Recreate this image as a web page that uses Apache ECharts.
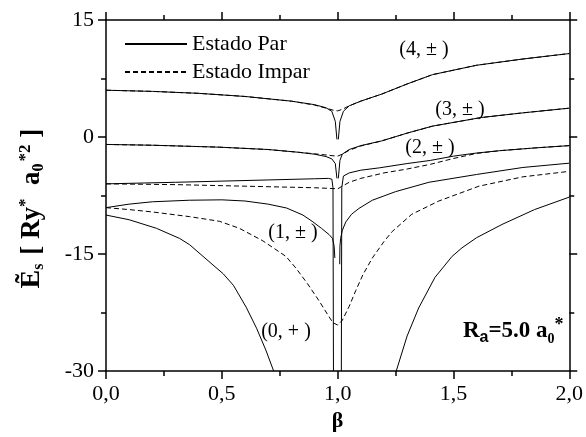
<!DOCTYPE html>
<html><head><meta charset="utf-8">
<script src="https://cdn.jsdelivr.net/npm/echarts@6/dist/echarts.min.js"></script>
<style>html,body{margin:0;padding:0;background:#fff}#c{width:586px;height:437px}</style>
</head><body><div id="c"></div>
<script>
// ---- tick values ----
const xTickValues = [0, 0.5, 1.0, 1.5, 2.0];
const yTickValues = [-30, -15, 0, 15];
const seriesNames = ['Estado Par', 'Estado Impar'];

// ---- level 4 ----
const par4_b = [0, 0.2, 0.4, 0.6, 0.8, 0.9, 0.95, 0.975, 0.99, 0.997, 1.0, 1.003, 1.01, 1.025, 1.05, 1.1, 1.19, 1.3, 1.41, 1.6, 1.8, 2.0];
const par4_e = [6.0, 5.85, 5.6, 5.2, 4.6, 4.15, 3.75, 3.3, 2.0, -0.3, null, -0.3, 2.0, 3.3, 4.0, 4.6, 5.5, 6.8, 8.0, 9.2, 10.0, 10.7];
const imp4_b = [0, 0.2, 0.4, 0.6, 0.8, 0.9, 0.95, 0.98, 1.0, 1.02, 1.05, 1.1, 1.19, 1.3, 1.41, 1.6, 1.8, 2.0];
const imp4_e = [6.0, 5.85, 5.6, 5.2, 4.6, 4.1, 3.7, 3.45, 3.35, 3.55, 4.0, 4.6, 5.5, 6.8, 8.0, 9.2, 10.0, 10.7];

// ---- level 3 ----
const par3_b = [0, 0.2, 0.49, 0.7, 0.83, 0.9, 0.95, 0.975, 0.99, 0.997, 1.0, 1.003, 1.01, 1.02, 1.05, 1.1, 1.19, 1.3, 1.41, 1.62, 1.8, 2.0];
const par3_e = [-0.95, -1.05, -1.3, -1.6, -1.95, -2.2, -2.5, -2.8, -3.4, -5.3, null, -5.3, -3.0, -2.2, -1.6, -1.1, -0.5, 0.5, 1.4, 2.5, 3.1, 3.7];
const imp3_b = [0, 0.2, 0.49, 0.7, 0.83, 0.9, 0.95, 0.98, 1.0, 1.02, 1.05, 1.1, 1.19, 1.3, 1.41, 1.62, 1.8, 2.0];
const imp3_e = [-0.95, -1.05, -1.3, -1.6, -1.95, -2.15, -2.3, -2.4, -2.45, -2.2, -1.7, -1.15, -0.5, 0.5, 1.4, 2.5, 3.1, 3.7];

// ---- level 2 ----
const par2_b = [0, 0.3, 0.5, 0.7, 0.9, 0.96, 0.975, 0.98, 0.982, 1.0, 1.016, 1.018, 1.025, 1.05, 1.1, 1.18, 1.3, 1.4, 1.5, 1.6, 1.7, 1.85, 2.0];
const par2_e = [-6.0, -5.8, -5.65, -5.5, -5.35, -5.3, -5.4, -6.5, -30, null, -30, -6.5, -5.0, -4.6, -4.25, -3.95, -3.4, -3.0, -2.45, -2.05, -1.75, -1.4, -1.1];
const imp2_b = [0, 0.3, 0.6, 0.9, 0.98, 1.0, 1.02, 1.05, 1.1, 1.2, 1.3, 1.4, 1.5, 1.6, 1.7, 1.85, 2.0];
const imp2_e = [-6.0, -6.1, -6.3, -6.5, -6.6, -6.65, -6.3, -5.8, -5.3, -4.6, -4.1, -3.5, -2.75, -2.1, -1.75, -1.4, -1.1];

// ---- level 1 ----
const par1_b = [0, 0.1, 0.2, 0.36, 0.5, 0.6, 0.7, 0.78, 0.85, 0.89, 0.93, 0.963, 0.978, 0.985, 0.988, 1.0, 1.009, 1.01, 1.013, 1.02, 1.035, 1.06, 1.092, 1.15, 1.25, 1.394, 1.6, 1.8, 2.0];
const par1_e = [-9.05, -8.6, -8.3, -8.1, -8.05, -8.2, -8.6, -9.1, -10.0, -10.8, -11.7, -12.5, -13.0, -14.0, -15.5, null, -16.3, -14.0, -13.0, -12.0, -10.9, -9.9, -9.15, -8.1, -7.0, -5.8, -4.8, -3.9, -3.35];
const imp1_b = [0, 0.1, 0.2, 0.36, 0.49, 0.576, 0.677, 0.777, 0.82, 0.87, 0.92, 0.96, 0.98, 1.0, 1.02, 1.05, 1.078, 1.11, 1.15, 1.2, 1.236, 1.32, 1.437, 1.61, 1.8, 2.0];
const imp1_e = [-9.05, -9.3, -9.6, -10.2, -10.8, -11.7, -13.3, -15.3, -16.8, -18.8, -21.0, -22.9, -23.8, -24.1, -23.5, -21.7, -19.7, -17.6, -15.5, -13.4, -12.1, -9.9, -8.2, -6.3, -5.1, -4.4];

// ---- level 0 (only even state) ----
const par0_b = [0, 0.1, 0.218, 0.318, 0.361, 0.462, 0.505, 0.55, 0.605, 0.65, 0.69, 0.724, 1.0, 1.253, 1.3, 1.35, 1.42, 1.494, 1.537, 1.6, 1.71, 1.85, 2.0];
const par0_e = [-10.0, -10.6, -11.7, -13.0, -13.8, -16.4, -17.5, -19.0, -21.8, -24.5, -27.3, -30, null, -30, -25.5, -21.9, -18.0, -15.3, -14.2, -12.9, -11.2, -9.3, -7.7];

const FONT = '"Liberation Serif", "Times New Roman", serif';

function mk(name, bs, es, dashed) {
  return {
    type: 'line', name: name,
    data: bs.map((b, i) => [b, es[i] === null ? '-' : es[i]]),
    symbol: 'none', showSymbol: false, connectNulls: false, clip: true,
    lineStyle: { color: '#000', width: 1, type: dashed ? [5, 3] : 'solid' },
    itemStyle: { color: '#000' },
    z: dashed ? 3 : 2, silent: true
  };
}

const series = [
  mk(seriesNames[0], par4_b, par4_e, false),
  mk(seriesNames[1], imp4_b, imp4_e, true),
  mk(seriesNames[0], par3_b, par3_e, false),
  mk(seriesNames[1], imp3_b, imp3_e, true),
  mk(seriesNames[0], par2_b, par2_e, false),
  mk(seriesNames[1], imp2_b, imp2_e, true),
  mk(seriesNames[0], par1_b, par1_e, false),
  mk(seriesNames[1], imp1_b, imp1_e, true),
  mk(seriesNames[0], par0_b, par0_e, false)
];

const axisLineStyle = { color: '#000', width: 1.5 };
function xAx(pos, labels) {
  return {
    type: 'value', position: pos, min: xTickValues[0], max: xTickValues[xTickValues.length - 1],
    interval: xTickValues[1] - xTickValues[0],
    axisLine: { show: true, onZero: false, lineStyle: axisLineStyle },
    axisTick: { show: true, inside: false, length: 8, lineStyle: axisLineStyle },
    minorTick: { show: true, splitNumber: 2, length: 5, lineStyle: axisLineStyle },
    splitLine: { show: false },
    axisLabel: { show: labels, margin: 12, color: '#000', fontFamily: FONT, fontSize: 22,
      formatter: v => v.toFixed(1).replace('.', ',') },
    name: labels ? 'β' : '', nameLocation: 'middle', nameGap: 35,
    nameTextStyle: { color: '#000', fontFamily: FONT, fontWeight: 'bold', fontSize: 22 }
  };
}
function yAx(pos, labels) {
  return {
    type: 'value', position: pos, min: yTickValues[0], max: yTickValues[yTickValues.length - 1],
    interval: yTickValues[1] - yTickValues[0],
    axisLine: { show: true, onZero: false, lineStyle: axisLineStyle },
    axisTick: { show: true, inside: false, length: 8, lineStyle: axisLineStyle },
    minorTick: { show: true, splitNumber: 2, length: 5, lineStyle: axisLineStyle },
    splitLine: { show: false },
    axisLabel: { show: labels, margin: 12, color: '#000', fontFamily: FONT, fontSize: 22 },
    name: labels ? '{e|Ẽ}{sub|s}{t| [ Ry}{sup|*}{t|  a}{sub|0}{sup|*2}{t| ]}' : '',
    nameLocation: 'middle', nameGap: 59, nameRotate: 90,
    nameTextStyle: {
      color: '#000', fontFamily: FONT, fontWeight: 'bold', fontSize: 27,
      padding: [0, 26, 0, 0],
      rich: {
        e: { fontFamily: FONT, fontWeight: 'bold', fontSize: 28, lineHeight: 30, verticalAlign: 'middle' },
        t: { fontFamily: FONT, fontWeight: 'bold', fontSize: 27, lineHeight: 30, verticalAlign: 'middle' },
        sub: { fontFamily: FONT, fontWeight: 'bold', fontSize: 16, lineHeight: 30, verticalAlign: 'bottom', padding: [0, 2, 0, 0] },
        sup: { fontFamily: FONT, fontWeight: 'bold', fontSize: 17, lineHeight: 30, verticalAlign: 'top' }
      }
    }
  };
}

const labelFont = '20px ' + FONT;
function note(x, y, text) {
  return { type: 'text', x: x, y: y, silent: true,
    style: { text: text, font: labelFont, fill: '#000', align: 'center', verticalAlign: 'middle',
             textAlign: 'center', textVerticalAlign: 'middle' } };
}

const chart = echarts.init(document.getElementById('c'), null, { renderer: 'canvas' });
chart.setOption({
  animation: false,
  backgroundColor: '#fff',
  grid: { left: 106, right: 15, top: 20, bottom: 63, containLabel: false },
  xAxis: [xAx('bottom', true), xAx('top', false)],
  yAxis: [yAx('left', true), yAx('right', false)],
  legend: {
    data: seriesNames, orient: 'vertical', left: 119, top: 28,
    itemWidth: 62, itemHeight: 14, itemGap: 6, selectedMode: false,
    itemStyle: { opacity: 0, borderWidth: 0 },
    textStyle: { color: '#000', fontFamily: FONT, fontSize: 22, padding: [0, 0, 0, 0] }
  },
  series: series,
  graphic: [
    note(424, 50, '(4, ± )'),
    note(460, 110, '(3, ± )'),
    note(430, 148, '(2, ± )'),
    note(293, 233, '(1, ± )'),
    note(286, 332, '(0, + )'),
    { type: 'text', x: 463, y: 316, silent: true,
      style: {
        text: '{b|R}{s|a}{b|=5.0 a}{z|0}{p|*}',
        fill: '#000', font: 'bold 22px ' + FONT,
        rich: {
          b: { fontFamily: FONT, fontWeight: 'bold', fontSize: 23, lineHeight: 30, verticalAlign: 'middle' },
          s: { fontFamily: 'Liberation Sans, Arial, sans-serif', fontWeight: 'bold', fontSize: 16, lineHeight: 30, verticalAlign: 'bottom' },
          z: { fontFamily: FONT, fontWeight: 'bold', fontSize: 14, lineHeight: 30, verticalAlign: 'bottom' },
          p: { fontFamily: FONT, fontWeight: 'bold', fontSize: 18, lineHeight: 30, verticalAlign: 'top' }
        }
      } }
  ]
});
</script>
</body></html>
